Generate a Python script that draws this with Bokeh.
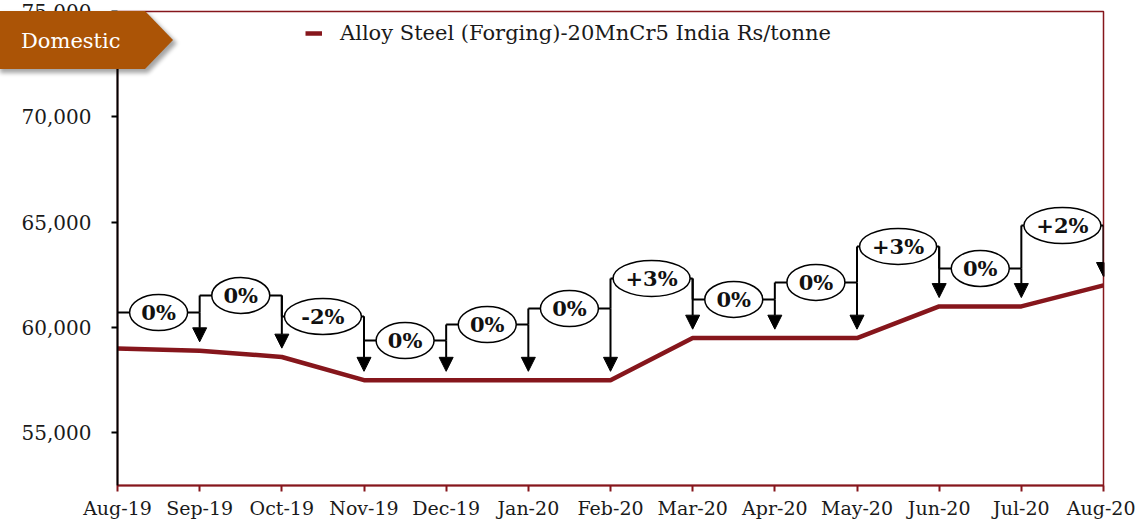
from bokeh.plotting import figure
from bokeh.layouts import column
from bokeh.models import (Range1d, FixedTicker, NumeralTickFormatter, Legend, LegendItem,
                          ColumnDataSource, Arrow, NormalHead, Div)
from bokeh.core.properties import value
from bokeh.embed import file_html
from bokeh.resources import INLINE

# ---------------- data ----------------
months = ["Aug-19", "Sep-19", "Oct-19", "Nov-19", "Dec-19", "Jan-20", "Feb-20",
          "Mar-20", "Apr-20", "May-20", "Jun-20", "Jul-20", "Aug-20"]
prices = [59000, 58900, 58600, 57500, 57500, 57500, 57500,
          59500, 59500, 59500, 61000, 61000, 62000]
change_labels = ["0%", "0%", "-2%", "0%", "0%", "0%", "+3%", "0%", "0%", "+3%", "0%", "+2%"]
series_name = "Alloy Steel (Forging)-20MnCr5 India Rs/tonne"
y_ticks = [55000, 60000, 65000, 70000, 75000]
tag_text = "Domestic"

# annotation layout (bracket rise above the higher month, Rs/tonne)
bracket_rise = [1710, 2620, 1920, 1880, 2640, 3400, 2830, 1830, 2640, 2850, 1800, 2840]
arrow_gap = 420

FONT = "DejaVu Serif"
LINE_RED = "#86161C"
TAG = "#AB5406"

idx = list(range(len(months)))
n = len(change_labels)
levels = [max(prices[i], prices[i + 1]) + bracket_rise[i] for i in range(n)]

p = figure(width=1135, height=521, output_backend="svg", toolbar_location=None,
           x_range=Range1d(0, len(months) - 1), y_range=Range1d(52500, 75000),
           min_border_left=117, min_border_right=32, min_border_top=11, min_border_bottom=36)
p.margin = 0
p.background_fill_color = "white"
p.border_fill_color = "white"
p.outline_line_color = LINE_RED
p.outline_line_width = 1.5
p.xgrid.visible = False
p.ygrid.visible = False

# axes
p.xaxis.ticker = FixedTicker(ticks=idx)
p.xaxis.major_label_overrides = {i: m for i, m in zip(idx, months)}
p.xaxis.axis_line_color = LINE_RED
p.xaxis.axis_line_width = 2
p.xaxis.major_tick_line_color = LINE_RED
p.xaxis.major_tick_line_width = 2
p.xaxis.major_tick_in = 0
p.xaxis.major_tick_out = 6
p.xaxis.minor_tick_line_color = None
p.xaxis.major_label_text_font = FONT
p.xaxis.major_label_text_font_size = "19px"
p.xaxis.major_label_text_color = "#1a1a1a"
p.xaxis.major_label_standoff = 5

p.yaxis.ticker = FixedTicker(ticks=y_ticks)
p.yaxis.formatter = NumeralTickFormatter(format="0,0")
p.yaxis.axis_line_color = "black"
p.yaxis.axis_line_width = 2
p.yaxis.major_tick_line_color = "black"
p.yaxis.major_tick_line_width = 2
p.yaxis.major_tick_in = 0
p.yaxis.major_tick_out = 6
p.yaxis.minor_tick_line_color = None
p.yaxis.major_label_text_font = FONT
p.yaxis.major_label_text_font_size = "20px"
p.yaxis.major_label_text_color = "#1a1a1a"
p.yaxis.major_label_standoff = 20

# main series
line = p.line(idx, prices, line_color=LINE_RED, line_width=4.5)

# brackets
hsrc = ColumnDataSource(dict(x0=idx[:-1], x1=idx[1:], y=levels))
p.segment(x0="x0", y0="y", x1="x1", y1="y", source=hsrc, line_color="black", line_width=2)

vx = idx[1:n]
p.segment(x0=vx, y0=levels[1:], x1=vx, y1=levels[:-1], line_color="black", line_width=2)

asrc = ColumnDataSource(dict(x=idx[1:], ys=levels, ye=[v + arrow_gap for v in prices[1:]]))
p.add_layout(Arrow(end=NormalHead(size=14, fill_color="black", line_color="black"),
                   x_start="x", y_start="ys", x_end="x", y_end="ye", source=asrc,
                   line_color="black", line_width=2))

esrc = ColumnDataSource(dict(x=[i + 0.5 for i in range(n)], y=levels, t=change_labels,
                             w=[20 + 19 * len(s) for s in change_labels]))
p.ellipse(x="x", y="y", width="w", height=36, width_units="screen", height_units="screen",
          source=esrc, fill_color="white", line_color="black", line_width=1.5)
p.text(x="x", y="y", text="t", source=esrc, text_align="center", text_baseline="middle",
       text_font=value(FONT), text_font_style="bold", text_font_size="21px", text_color="#111111")

# legend
legend = Legend(items=[LegendItem(label=series_name, renderers=[line])],
                location=(188, 440), orientation="horizontal",
                border_line_color=None, background_fill_alpha=0,
                padding=0, margin=0, glyph_width=17, glyph_height=20, label_standoff=18,
                label_text_font=FONT, label_text_font_size="21px", label_text_color="#1a1a1a")
p.add_layout(legend)

# "Domestic" tag overlaid on the top-left corner of the chart
tag_html = f"""
<div style="position:absolute; left:0px; top:0px; width:190px; height:80px; z-index:10; pointer-events:none;">
<svg width="190" height="80" xmlns="http://www.w3.org/2000/svg">
  <defs><filter id="sh" x="-10%" y="-10%" width="130%" height="140%">
    <feGaussianBlur stdDeviation="2.2"/></filter></defs>
  <polygon points="0,14 148,14 177,43 148,73 0,73" fill="#000000" opacity="0.35" filter="url(#sh)"/>
  <polygon points="0,11 145,11 173,40 145,69 0,69" fill="{TAG}"/>
  <text x="21" y="48" style="font-family:'{FONT}', serif; font-size:21px; fill:white;">{tag_text}</text>
</svg></div>
"""
tag = Div(text=tag_html, width=1, height=0, margin=0,
          styles={"overflow": "visible", "z-index": "10"})

layout = column(tag, p, spacing=0)
open("out.html", "w").write(file_html(layout, INLINE))
